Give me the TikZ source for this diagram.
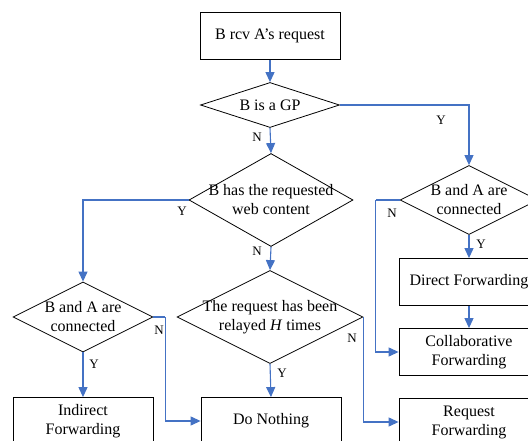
\documentclass[tikz,border=0pt]{standalone}
\usepackage{fontspec}
\setmainfont{Liberation Serif}
\usepackage{tikz}
\usetikzlibrary{positioning,arrows.meta,shapes.geometric}
\definecolor{flowblue}{RGB}{68,114,196}

\begin{document}
\begin{tikzpicture}
[x=1pt,y=-1pt,
box/.style={draw,line width=0.8pt,minimum width=140pt,minimum height=47pt,
  align=center,inner sep=0pt,font=\fontsize{16}{19}\selectfont},
test/.style={diamond,draw,line width=0.8pt,inner sep=0pt,aspect=2},
testtext/.style={align=center,font=\fontsize{16}{19}\selectfont},
flow/.style={flowblue,line width=1.1pt,-{Triangle[length=10pt,width=9pt]}},
branch/.style={flowblue,line width=1.1pt},
answer/.style={inner sep=0pt,font=\fontsize{13}{15}\selectfont}]
\clip (0,0) rectangle (528,441);
% Boxes
\node[box] (rcv) at (270,36) {B rcv A’s request};
\node[box] (direct) at (469,282) {Direct Forwarding};
\node[box] (collab) at (469,352) {Collaborative\\Forwarding};
\node[box] (reqfwd) at (469,422) {Request\\Forwarding};
\node[box] (nothing) at (271,421) {Do Nothing};
\node[box] (indirect) at (83,421) {Indirect\\Forwarding};
% Decisions
\node[test,minimum width=139pt,minimum height=45pt,
  label={[testtext]center:B is a GP}] (gp) at (270,105) {};
\node[test,minimum width=164pt,minimum height=93pt,
  label={[testtext]center:B has the requested\\web content}] (hascont) at (271,200) {};
\node[test,minimum width=138pt,minimum height=69pt,
  label={[testtext]center:B and A are\\connected}] (connR) at (469,200) {};
\node[test,minimum width=140pt,minimum height=70pt,
  label={[testtext]center:B and A are\\connected}] (connL) at (83,317) {};
\node[test,minimum width=186pt,minimum height=93pt,
  label={[testtext]center:The request has been\\relayed \textit{H} times}] (relayed) at (270,317) {};
% Connectors
\draw[flow] (rcv) -- (gp);
\draw[flow] (gp.east) -| (connR.north);
\draw[flow] (gp.south) -- (hascont.north);
\draw[flow] (hascont.west) -| (connL.north);
\draw[flow] (hascont.south) -- (relayed.north);
\draw[flow] (connR.south) -- (direct.north);
\draw[flow] (direct.south) -- (collab.north);
\draw[branch] (connR.west) -- ++(-24,0) coordinate (bendR);
\draw[flow] (bendR) |- (collab.west);
\draw[flow] (connL.south) -- (indirect.north);
\draw[branch] (connL.east) -- ++(12,0) coordinate (bendL);
\draw[flow] (bendL) |- (nothing.west);
\draw[flow] (relayed.south) -- (nothing.north);
\draw[flow] (relayed.east) |- (reqfwd.west);
% Answers
\node[answer] (gpY) at (441,120) {Y};
\node[answer] (gpN) at (257,137) {N};
\node[answer] (hasY) at (182,211) {Y};
\node[answer] (hasN) at (257,251) {N};
\node[answer] (connRN) at (392,213) {N};
\node[answer] (connRY) at (481,244) {Y};
\node[answer] (connLN) at (159,330) {N};
\node[answer] (connLY) at (94,364) {Y};
\node[answer] (relN) at (352,338) {N};
\node[answer] (relY) at (282,373) {Y};
\end{tikzpicture}
\end{document}
